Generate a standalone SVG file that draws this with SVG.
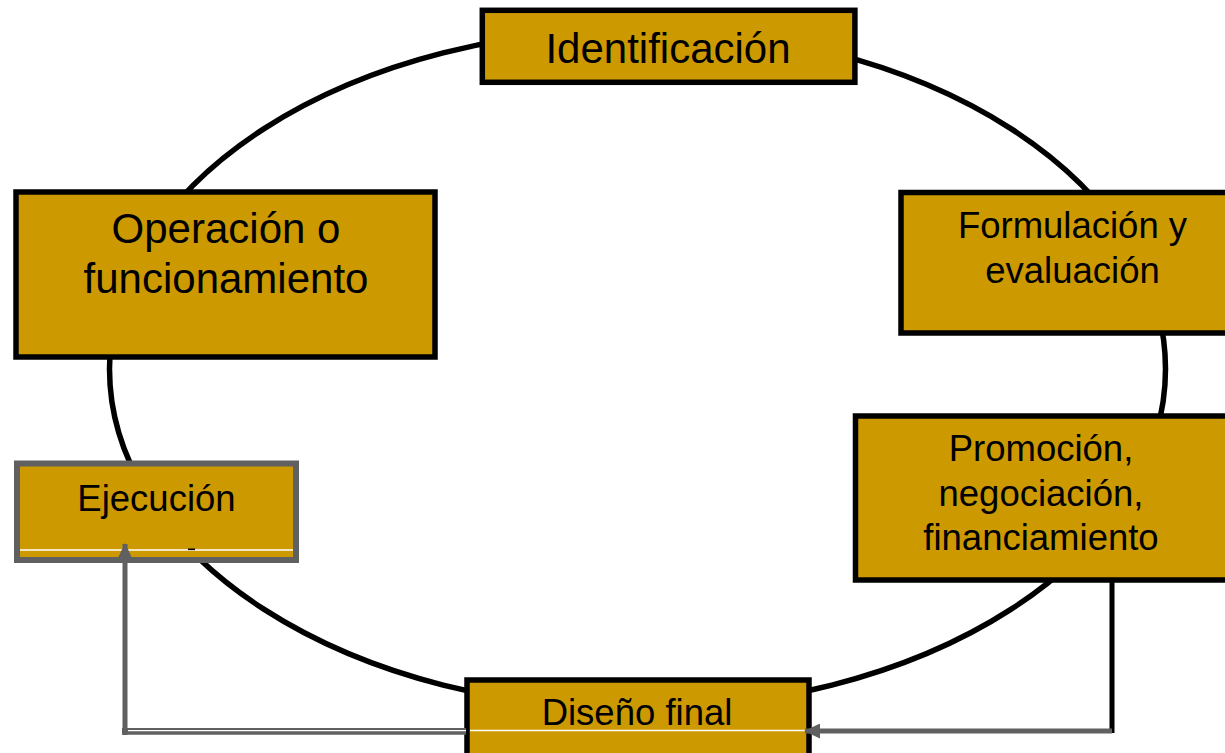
<svg xmlns="http://www.w3.org/2000/svg" width="1225" height="753" viewBox="0 0 1225 753">
<style>
.box{fill:#CC9900;stroke:#000;stroke-width:5.5}
.gbox{fill:#CC9900;stroke:#606060;stroke-width:6}
.t{font-family:"Liberation Sans",Arial,sans-serif;fill:#000;text-anchor:middle}
.big{font-size:42px}
.mid{font-size:36.5px}
.gl{stroke:#606060;fill:none}
.wl{stroke:#fff;stroke-width:1.3}
</style>
<defs>
<marker id="ah" viewBox="0 0 16 15" refX="15" refY="7.5" markerWidth="16" markerHeight="15" orient="auto" markerUnits="userSpaceOnUse">
<path d="M0,0 L16,7.5 L0,15 Z" fill="#606060"/>
</marker>
</defs>
<rect width="1225" height="753" fill="#fff"/>
<g id="cycle">
<ellipse cx="637.5" cy="369" rx="528" ry="340" fill="none" stroke="#000" stroke-width="5.5"/>
</g>
<g id="identificacion">
<rect class="box" x="482.3" y="10.3" width="372.6" height="72"/>
<text class="t big" x="668" y="63">Identificación</text>
</g>
<g id="formulacion">
<rect class="box" x="901" y="192.5" width="340" height="140.5"/>
<text class="t mid" x="1072.5" y="238">Formulación y</text>
<text class="t mid" x="1072.5" y="283">evaluación</text>
</g>
<g id="promocion">
<rect class="box" x="855.5" y="416" width="380" height="164"/>
<text class="t mid" x="1041" y="461">Promoción,</text>
<text class="t mid" x="1041" y="506">negociación,</text>
<text class="t mid" x="1041" y="550">financiamiento</text>
</g>
<g id="diseno">
<rect class="box" x="467" y="680" width="342" height="76"/>
<text class="t mid" x="637" y="725">Diseño final</text>
<line class="wl" x1="470" y1="730.5" x2="805" y2="730.5"/>
</g>
<g id="ejecucion">
<rect class="gbox" x="17" y="463.5" width="279" height="96.5"/>
<text class="t mid" x="156.5" y="511">Ejecución</text>
<line class="wl" x1="20" y1="550" x2="293" y2="550"/>
<rect x="188" y="548.5" width="7" height="1.6" fill="#000"/>
</g>
<g id="operacion">
<rect class="box" x="16" y="192" width="419" height="165"/>
<text class="t big" x="226" y="243">Operación o</text>
<text class="t big" x="226" y="293">funcionamiento</text>
</g>
<g id="connectors">
<line x1="1112" y1="580" x2="1112" y2="733" stroke="#000" stroke-width="5"/>
<line class="gl" x1="1112" y1="731" x2="805" y2="731" stroke-width="5" marker-end="url(#ah)"/>
<line class="gl" x1="466" y1="731.3" x2="122" y2="731.3" stroke-width="6.7"/>
<line class="wl" x1="128" y1="730.6" x2="466" y2="730.6"/>
<line class="gl" x1="125" y1="735" x2="125" y2="544" stroke-width="5" marker-end="url(#ah)"/>
</g>
</svg>
